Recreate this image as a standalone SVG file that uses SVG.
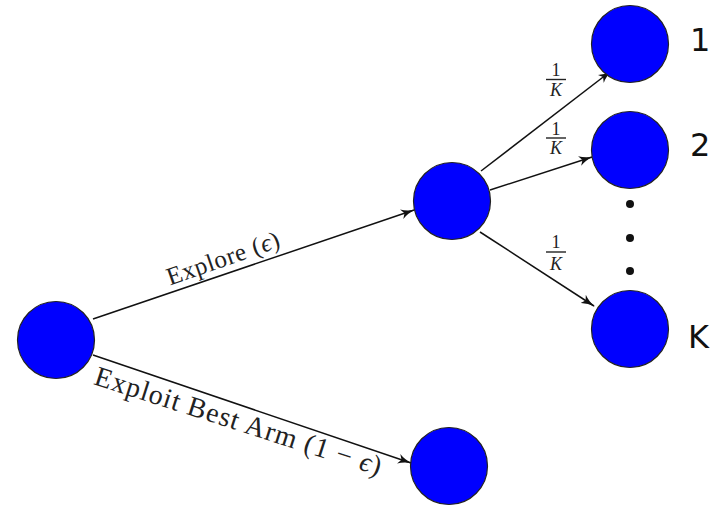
<svg xmlns="http://www.w3.org/2000/svg" width="713" height="511" viewBox="0 0 713 511">
<defs>
<style>
.node{fill:#0000ff;stroke:#222;stroke-width:1.2}
.edge{stroke:#111;stroke-width:1.5;fill:none}
.lbl{font-family:"Liberation Serif","DejaVu Serif",serif;fill:#222;text-anchor:middle}
.frac{font-family:"Liberation Serif","DejaVu Serif",serif;font-size:18px;fill:#222;text-anchor:middle}
.num{font-family:"DejaVu Sans",sans-serif;font-size:32px;fill:#111}
</style>
<marker id="arr" viewBox="0 0 14 10" refX="13" refY="5" markerWidth="14" markerHeight="10" markerUnits="userSpaceOnUse" orient="auto">
<path d="M0,0 Q6,4 14,5 Q6,6 0,10 L3,5 Z" fill="#111"/>
</marker>
</defs>
<g id="connectors">
<line class="edge" x1="93" y1="319" x2="414" y2="210" marker-end="url(#arr)"/>
<line class="edge" x1="93" y1="355" x2="411" y2="463" marker-end="url(#arr)"/>
<line class="edge" x1="481" y1="171" x2="611" y2="71" marker-end="url(#arr)"/>
<line class="edge" x1="490" y1="190" x2="592" y2="157" marker-end="url(#arr)"/>
<line class="edge" x1="480" y1="232" x2="594" y2="306" marker-end="url(#arr)"/>
</g>
<g id="labels">
<text class="lbl" font-size="25" letter-spacing="0.6" transform="translate(226,266) rotate(-19.3)">Explore (<tspan font-style="italic">ϵ</tspan>)</text>
<text class="lbl" font-size="28" letter-spacing="1" transform="translate(236,430) rotate(17.8)">Exploit Best Arm (1 − <tspan font-style="italic">ϵ</tspan>)</text>
<g id="frac1">
<text class="frac" x="556" y="76">1</text>
<line x1="546" y1="79.5" x2="566" y2="79.5" stroke="#222" stroke-width="1.4"/>
<text class="frac" x="556" y="96" font-style="italic">K</text>
</g>
<g id="frac2">
<text class="frac" x="556" y="135">1</text>
<line x1="546" y1="138" x2="566" y2="138" stroke="#222" stroke-width="1.4"/>
<text class="frac" x="556" y="154" font-style="italic">K</text>
</g>
<g id="frac3">
<text class="frac" x="556" y="248">1</text>
<line x1="546" y1="252" x2="566" y2="252" stroke="#222" stroke-width="1.4"/>
<text class="frac" x="556" y="270" font-style="italic">K</text>
</g>
</g>
<g id="root"><circle class="node" cx="56" cy="340" r="38.5"/></g>
<g id="explore"><circle class="node" cx="452" cy="201" r="38.5"/></g>
<g id="exploit"><circle class="node" cx="449" cy="466" r="38.5"/></g>
<g id="arm1"><circle class="node" cx="630" cy="44" r="38.5"/><text class="num" x="690" y="51">1</text></g>
<g id="arm2"><circle class="node" cx="630" cy="150" r="38.5"/><text class="num" x="690" y="156">2</text></g>
<g id="dots">
<circle cx="630" cy="204" r="4" fill="#111"/>
<circle cx="630" cy="238" r="4" fill="#111"/>
<circle cx="630" cy="271" r="4" fill="#111"/>
</g>
<g id="armK"><circle class="node" cx="630" cy="329" r="38.5"/><text class="num" x="688" y="348">K</text></g>
</svg>
